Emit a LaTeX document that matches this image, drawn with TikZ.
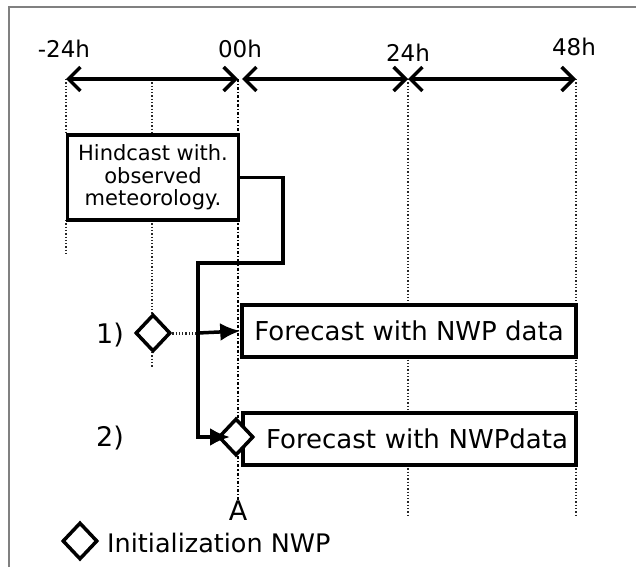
\documentclass[tikz,border=0pt]{standalone}
\usepackage{fontspec}
\setmainfont{DejaVu Sans}
\usetikzlibrary{shapes.geometric,arrows.meta,positioning,calc}

\tikzset{
  timeline/.style={line width=3.5pt, {Straight Barb[length=12pt,width=24pt]}-{Straight Barb[length=12pt,width=24pt]}},
  guide/.style={line width=1.3pt, dotted, gray!30!black},
  zeroline/.style={line width=1.2pt, dash dot, black},
  runbox/.style={draw, line width=3.5pt, fill=white, inner sep=0pt},
  flow/.style={line width=3.5pt, -{Latex[length=20pt,width=18pt]}},
  initnwp/.style={draw, diamond, line width=3.5pt, fill=white, minimum width=35pt, minimum height=37pt, inner sep=0pt},
  ticklabel/.style={font=\fontsize{23}{24}\selectfont, anchor=base}
}

\begin{document}
\begin{tikzpicture}[x=1pt,y=-1pt]
  \useasboundingbox (0,0) rectangle (636,567);
  % frame
  \draw[gray, line width=1.5pt] (9,567) -- (9,7) -- (636,7);

  % time axis
  \coordinate (tm24) at (66,79);
  \coordinate (tmid) at (152,79);
  \coordinate (t00) at (238,79);
  \coordinate (t00b) at (242,79);
  \coordinate (t24) at (408,79);
  \coordinate (t48) at (576,79);
  \node[ticklabel] (lm24) at (64,58) {-24h};
  \node[ticklabel] (l00) at (240,58) {00h};
  \node[ticklabel] (l24) at (408,62) {24h};
  \node[ticklabel] (l48) at (574,56) {48h};

  % guides
  \draw[guide] (tm24) -- (66,135);
  \draw[guide] (66,220) -- (66,255);
  \draw[guide] (tmid) -- (152,135);
  \draw[guide] (152,220) -- (152,368);
  \draw[zeroline] (t00) -- (238,500);
  \draw[guide] (t24) -- (408,515);
  \draw[guide] (t48) -- (576,515);

  % boxes
  \node[runbox, minimum width=171pt, minimum height=85pt, align=center,
        font=\fontsize{21}{22.5}\selectfont] (hind) at (153,177.5)
        {Hindcast with.\\observed\\meteorology.};
  \node[runbox, minimum width=334pt, minimum height=52pt,
        font=\fontsize{26}{28}\selectfont] (fc1) at (409,331) {Forecast with NWP data};
  \node[runbox, minimum height=52pt, text width=317pt, inner xsep=8pt, align=right,
        font=\fontsize{26}{28}\selectfont] (fc2) at (409.5,439) {Forecast with NWPdata};

  \draw[timeline] (tm24) -- (t00);
  \draw[timeline] (t00b) -- (t24);
  \draw[timeline] (t24) -- (t48);

  % initialisation diamonds
  \node[initnwp] (d1) at (153,333) {};
  \node[initnwp] (d2) at (236,437) {};
  \coordinate (split) at (198,333);
  \draw[guide, line width=3pt] (d1.east) -- (split);
  \draw[flow, shorten >=6pt] (hind.east) -| (283,263) -| (198,437) -- (d2.center);
  \draw[flow] (split) -- (fc1.west);

  \node[font=\fontsize{27}{28}\selectfont] (n1) at (110,335) {1)};
  \node[font=\fontsize{27}{28}\selectfont] (n2) at (110,438) {2)};
  \node[font=\fontsize{27}{28}\selectfont] (lA) at (238,511) {A};

  % legend
  \node[initnwp] (leg) at (80,541) {};
  \node[font=\fontsize{25.5}{28}\selectfont, anchor=west, inner sep=0pt] (legtxt) at (107,543) {Initialization NWP};
\end{tikzpicture}
\end{document}
